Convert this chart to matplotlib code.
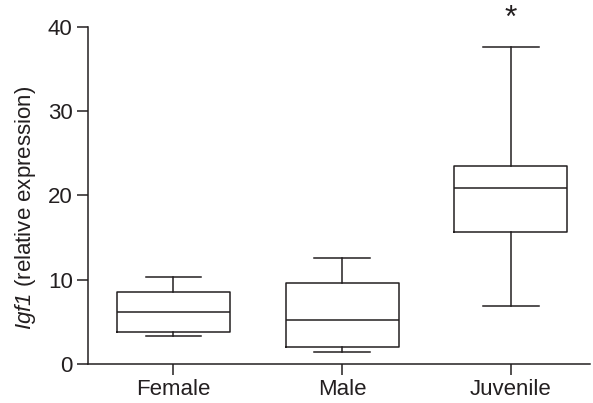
import matplotlib
matplotlib.use("Agg")
import matplotlib.pyplot as plt

plt.rcParams['font.family'] = ['Liberation Sans', 'DejaVu Sans']
plt.rcParams['mathtext.fontset'] = 'custom'
plt.rcParams['mathtext.it'] = 'Liberation Sans:italic'
plt.rcParams['mathtext.rm'] = 'Liberation Sans:italic'  # gene name digits slanted too

groups = ['Female', 'Male', 'Juvenile']
whislo = [3.36, 1.46, 6.88]
q1 = [3.76, 1.98, 15.7]
med = [6.17, 5.18, 20.9]
q3 = [8.58, 9.57, 23.45]
whishi = [10.3, 12.6, 37.6]
marked = ['', '', '*']

ink = '#231f20'

stats = []
for i, g in enumerate(groups):
    stats.append(dict(label=g, whislo=whislo[i], q1=q1[i], med=med[i],
                      q3=q3[i], whishi=whishi[i], fliers=[]))

fig = plt.figure(figsize=(5.93, 4.03), dpi=100)
ax = fig.add_axes([0.1484, 0.0968, 0.8466, 0.8362])

lw = 1.1
ax.bxp(stats, positions=[1, 2, 3], widths=0.67, capwidths=0.33,
       showfliers=False,
       boxprops=dict(color=ink, linewidth=lw),
       medianprops=dict(color=ink, linewidth=lw),
       whiskerprops=dict(color=ink, linewidth=lw),
       capprops=dict(color=ink, linewidth=lw))

# significance marker above the whisker
for i, m in enumerate(marked):
    if m:
        ax.text(i + 1, 39.2, m, ha='center', va='bottom', fontsize=23,
                color=ink, clip_on=False)

ax.set_xlim(0.494, 3.47)
ax.set_ylim(0, 40)
ax.set_yticks([0, 10, 20, 30, 40])
ax.set_xticks([1, 2, 3])
ax.set_xticklabels(groups)

for s in ['top', 'right']:
    ax.spines[s].set_visible(False)
for s in ['left', 'bottom']:
    ax.spines[s].set_color(ink)
    ax.spines[s].set_linewidth(lw)

ax.tick_params(axis='both', direction='out', length=8, width=lw, color=ink,
               labelcolor=ink)
ax.tick_params(axis='y', labelsize=16, pad=3)
ax.tick_params(axis='x', labelsize=16, pad=3)

ax.set_ylabel(r'$Igf1$ (relative expression)', fontsize=16, color=ink)
ax.yaxis.set_label_coords(-0.100, 0.463)

fig.savefig('out.png', dpi=100)
